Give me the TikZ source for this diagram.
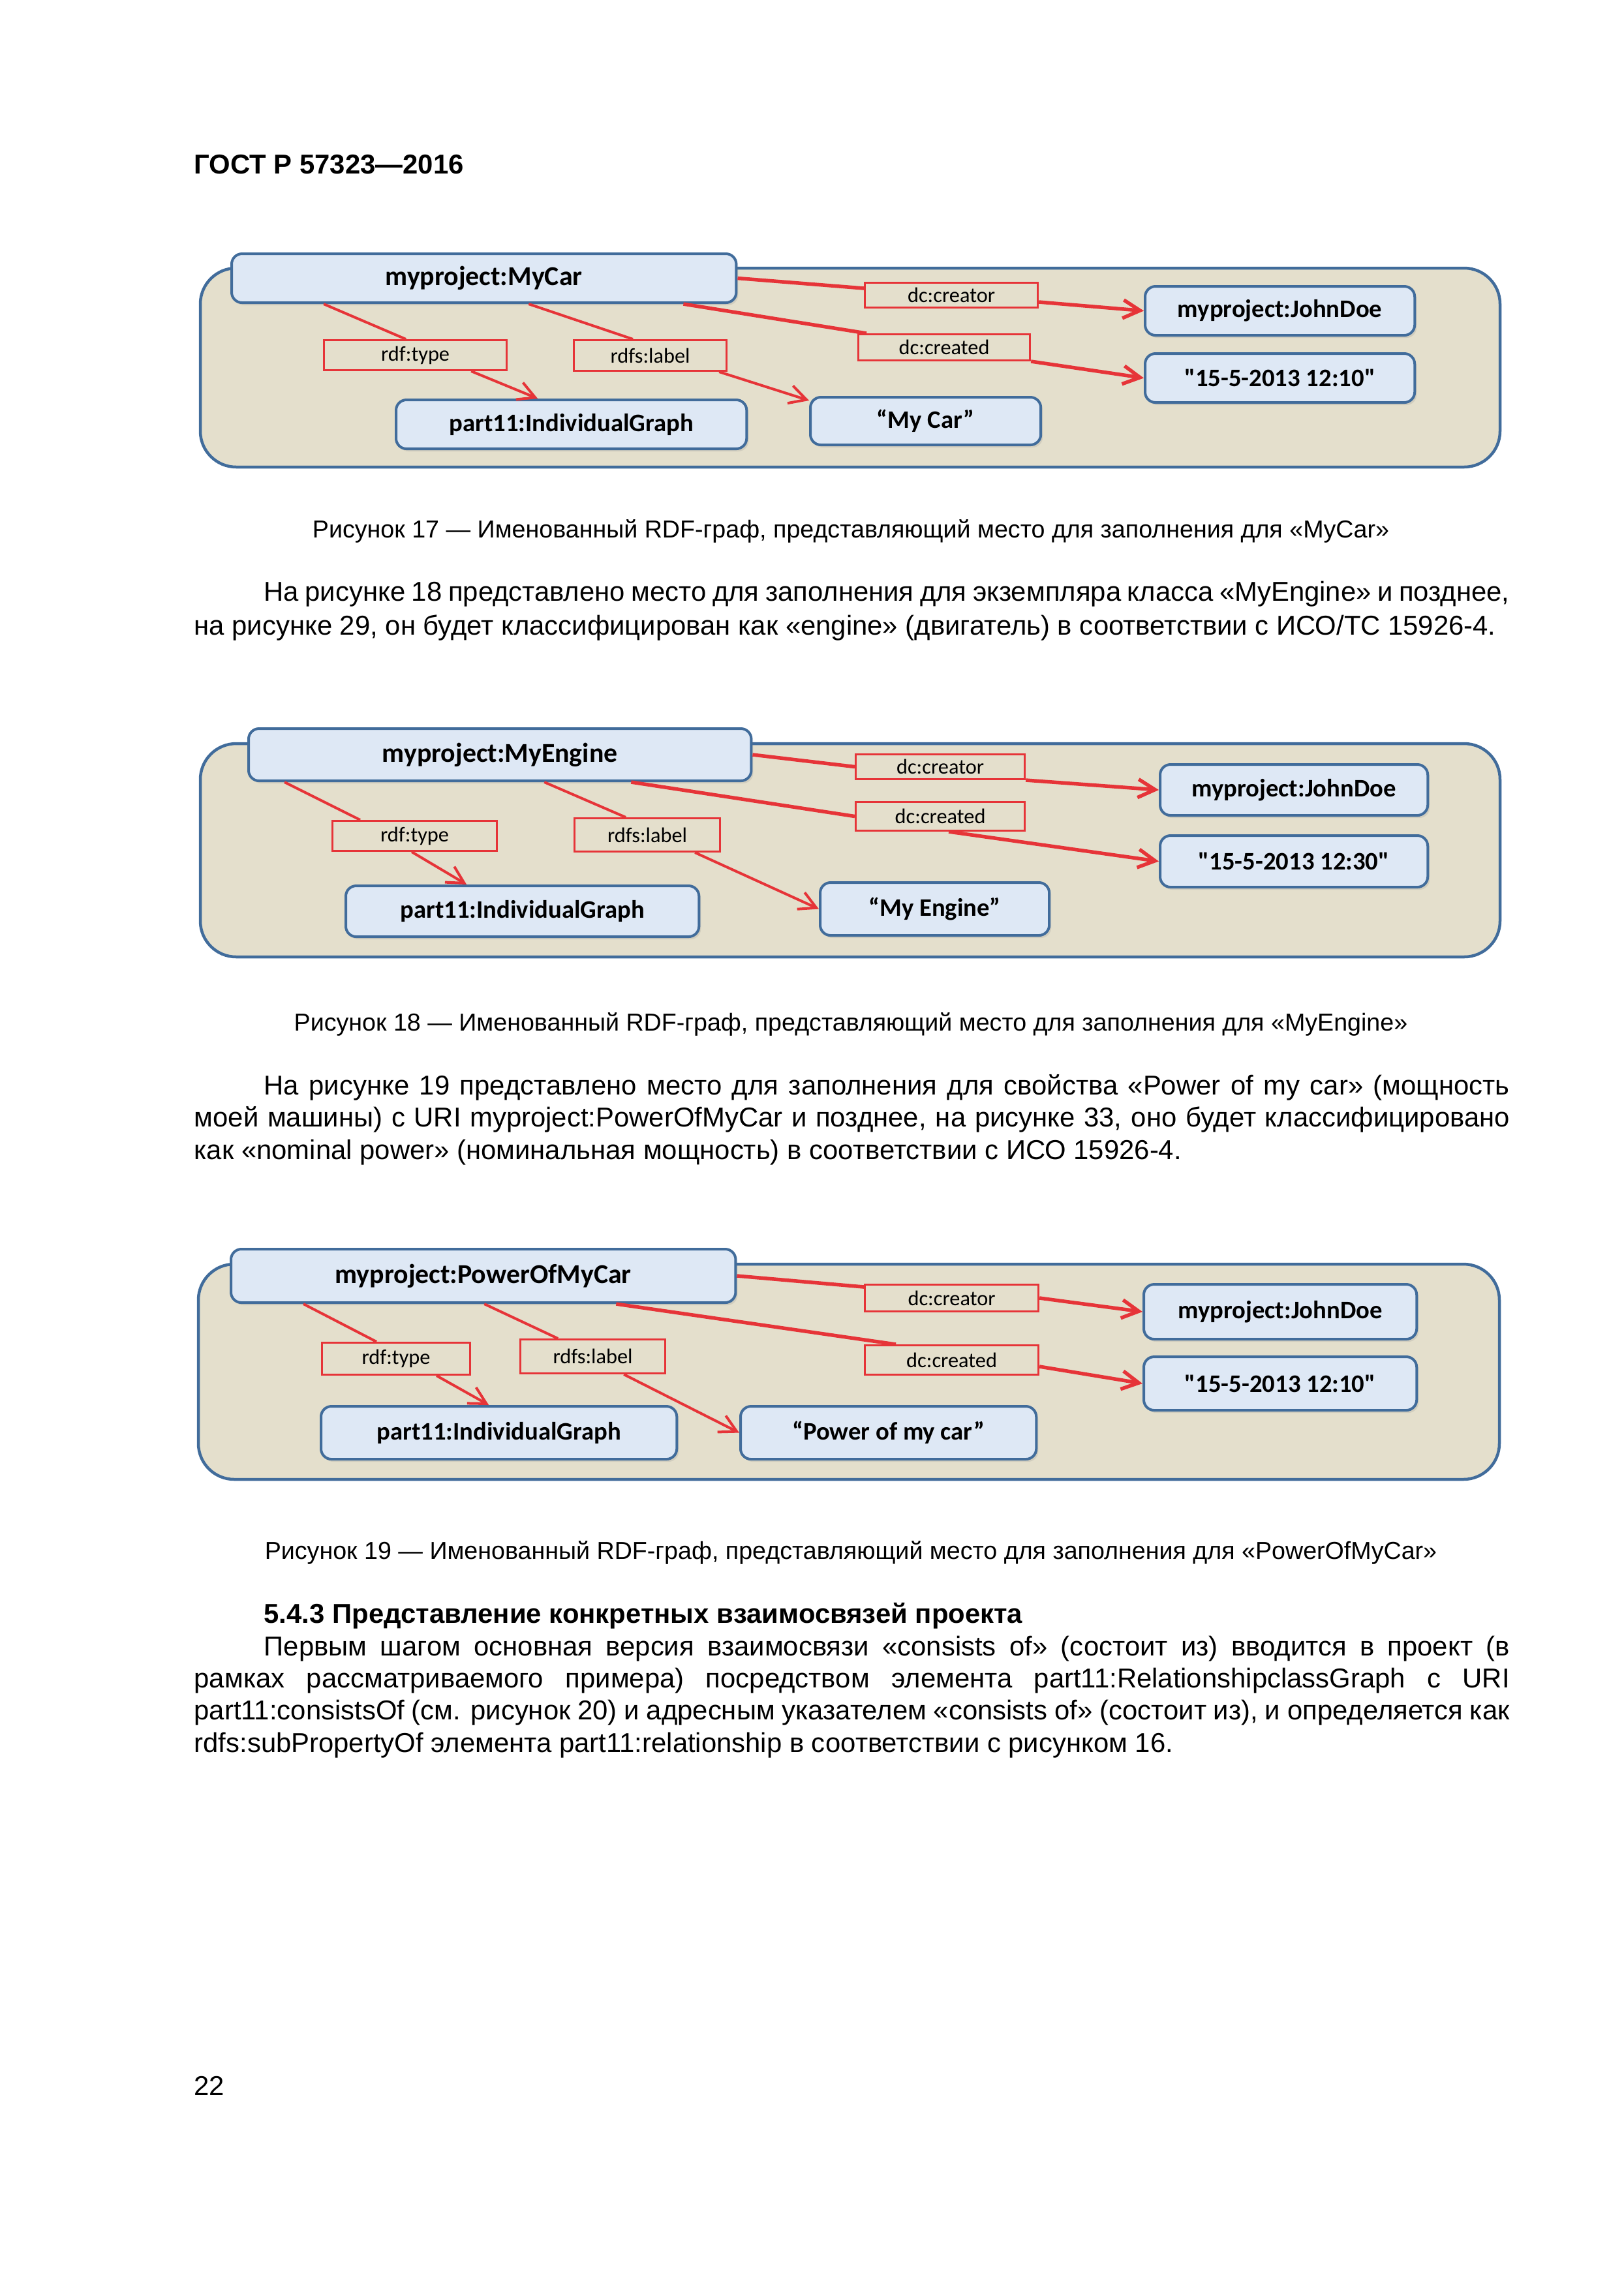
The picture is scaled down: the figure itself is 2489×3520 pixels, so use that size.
\documentclass[tikz,border=0pt]{standalone}
\usepackage{fontspec}
\setmainfont{Liberation Sans}
\newfontfamily\calibri{Carlito}
\usetikzlibrary{arrows.meta,shadows}

\definecolor{graphbg}{RGB}{228,223,204}
\definecolor{graphedge}{RGB}{65,108,155}
\definecolor{nodefill}{RGB}{222,232,245}
\definecolor{propred}{RGB}{230,52,56}

\newcommand{\bodyfont}{\fontsize{11.9pt}{14pt}\selectfont}
\newcommand{\capfont}{\fontsize{10.7pt}{13pt}\selectfont}
\newcommand{\fullline}[2]{\makebox[#1][s]{#2}}

\tikzset{
  graphbox/.style={draw=graphedge, line width=0.45mm, fill=graphbg, rounded corners=5.5mm},
  rdfnode/.style={draw=graphedge, line width=0.4mm, fill=nodefill, rounded corners=1.6mm,
    anchor=north west, inner sep=0pt, font=\calibri\bfseries\fontsize{11pt}{13pt}\selectfont,
    drop shadow={opacity=0.18, shadow xshift=0.3mm, shadow yshift=-0.4mm}},
  subjnode/.style={rdfnode, font=\calibri\bfseries\fontsize{11.9pt}{14pt}\selectfont},
  propbox/.style={draw=propred, line width=0.3mm, anchor=north west, inner sep=0pt,
    font=\calibri\fontsize{9.2pt}{11pt}\selectfont},
  dcline/.style={draw=propred, line width=0.55mm},
  typeline/.style={draw=propred, line width=0.4mm},
  proparrow/.style={-{Straight Barb[length=2.6mm,width=2.8mm]}},
  textline/.style={anchor=base west, inner sep=0pt, font=\bodyfont},
  captionline/.style={anchor=base, inner sep=0pt, font=\capfont},
}

\begin{document}
\begin{tikzpicture}[x=0.01cm,y=-0.01cm]
    \useasboundingbox (0,0) rectangle (2489,3520);

    % Page header
    \node[textline, font=\fontsize{11.9pt}{14pt}\selectfont\bfseries] (head) at (297,266) {ГОСТ Р 57323—2016};

    % Figure 17
    \draw[graphbox] (307,411) rectangle (2299,716);
    \node[subjnode, minimum width=7.73cm, minimum height=0.75cm] (car17) at (353,387) {myproject:MyCar};
    \node[rdfnode, minimum width=4.13cm, minimum height=0.75cm] (john17) at (1753,437) {myproject:JohnDoe};
    \node[rdfnode, minimum width=4.13cm, minimum height=0.75cm] (date17) at (1753,540) {"15-5-2013 12:10"};
    \node[rdfnode, minimum width=5.37cm, minimum height=0.75cm] (ig17) at (605,611) {part11:IndividualGraph};
    \node[rdfnode, minimum width=3.53cm, minimum height=0.73cm] (lit17) at (1240,607) {“My Car”};
    \node[propbox, minimum width=2.65cm, minimum height=0.38cm] (creator17) at (1324,432) {dc:creator};
    \node[propbox, minimum width=2.63cm, minimum height=0.40cm] (created17) at (1314,511) {dc:created};
    \node[propbox, minimum width=2.80cm, minimum height=0.46cm] (type17) at (495,520) {rdf:type};
    \node[propbox, minimum width=2.34cm, minimum height=0.47cm] (label17) at (878,520) {rdfs:label};

    \draw[dcline] (car17.east) -- ([yshift=-0.1cm]creator17.north west);
    \draw[dcline, proparrow] ([yshift=0.1cm]creator17.south east) -- (john17.west);
    \draw[dcline] ([xshift=6.94cm]car17.south west) -- ([xshift=0.14cm]created17.north west);
    \draw[dcline, proparrow] (created17.south east) -- (date17.west);
    \draw[typeline] ([xshift=1.43cm]car17.south west) -- ([xshift=1.27cm]type17.north west);
    \draw[typeline, proparrow] ([xshift=2.27cm]type17.south west) -- ([xshift=2.19cm]ig17.north west);
    \draw[typeline] ([xshift=4.57cm]car17.south west) -- ([xshift=0.92cm]label17.north west);
    \draw[typeline, proparrow] ([xshift=2.24cm]label17.south west) -- ([yshift=-0.07cm]lit17.north west);

    \node[captionline] (cap17) at (1304,824) {Рисунок 17 — Именованный RDF-граф, представляющий место для заполнения для «MyCar»};

    % Text before figure 18
    \node[textline] (p1a) at (404,921) {\fullline{19.08cm}{На рисунке 18 представлено место для заполнения для экземпляра класса «MyEngine» и позднее,}};
    \node[textline] (p1b) at (297,973) {на рисунке 29, он будет классифицирован как «engine» (двигатель) в соответствии с ИСО/ТС 15926-4.};

    % Figure 18
    \draw[graphbox] (307,1140) rectangle (2299,1467);
    \node[subjnode, minimum width=7.70cm, minimum height=0.80cm] (eng18) at (379,1115) {myproject:MyEngine};
    \node[rdfnode, minimum width=4.10cm, minimum height=0.78cm] (john18) at (1776,1170) {myproject:JohnDoe};
    \node[rdfnode, minimum width=4.10cm, minimum height=0.79cm] (date18) at (1776,1279) {"15-5-2013 12:30"};
    \node[rdfnode, minimum width=5.41cm, minimum height=0.78cm] (ig18) at (528,1356) {part11:IndividualGraph};
    \node[rdfnode, minimum width=3.51cm, minimum height=0.81cm] (lit18) at (1255,1351) {“My Engine”};
    \node[propbox, minimum width=2.59cm, minimum height=0.38cm] (creator18) at (1310,1155) {dc:creator};
    \node[propbox, minimum width=2.59cm, minimum height=0.44cm] (created18) at (1310,1228) {dc:created};
    \node[propbox, minimum width=2.52cm, minimum height=0.46cm] (type18) at (508,1257) {rdf:type};
    \node[propbox, minimum width=2.23cm, minimum height=0.51cm] (label18) at (879,1253) {rdfs:label};

    \draw[dcline] (eng18.east) -- (creator18.west);
    \draw[dcline, proparrow] (creator18.south east) -- (john18.west);
    \draw[dcline] ([xshift=5.88cm]eng18.south west) -- (created18.west);
    \draw[dcline, proparrow] ([xshift=1.44cm]created18.south west) -- (date18.west);
    \draw[typeline] ([xshift=0.57cm]eng18.south west) -- ([xshift=0.44cm]type18.north west);
    \draw[typeline, proparrow] ([xshift=1.23cm]type18.south west) -- ([xshift=1.87cm]ig18.north west);
    \draw[typeline] ([xshift=4.55cm]eng18.south west) -- ([xshift=0.80cm]label18.north west);
    \draw[typeline, proparrow] ([xshift=1.86cm]label18.south west) -- (lit18.west);

    \node[captionline] (cap18) at (1304,1580) {Рисунок 18 — Именованный RDF-граф, представляющий место для заполнения для «MyEngine»};

    % Text before figure 19
    \node[textline] (p2a) at (404,1678) {\fullline{19.08cm}{На рисунке 19 представлено место для заполнения для свойства «Power of my car» (мощность}};
    \node[textline] (p2b) at (297,1727) {\fullline{20.15cm}{моей машины) с URI myproject:PowerOfMyCar и позднее, на рисунке 33, оно будет классифицировано}};
    \node[textline] (p2c) at (297,1777) {как «nominal power» (номинальная мощность) в соответствии с ИСО 15926-4.};

    % Figure 19
    \draw[graphbox] (304,1938) rectangle (2298,2268);
    \node[subjnode, minimum width=7.73cm, minimum height=0.82cm] (pow19) at (352,1913) {myproject:PowerOfMyCar};
    \node[rdfnode, minimum width=4.18cm, minimum height=0.84cm] (john19) at (1751,1967) {myproject:JohnDoe};
    \node[rdfnode, minimum width=4.18cm, minimum height=0.82cm] (date19) at (1751,2078) {"15-5-2013 12:10"};
    \node[rdfnode, minimum width=5.45cm, minimum height=0.81cm] (ig19) at (490,2154) {part11:IndividualGraph};
    \node[rdfnode, minimum width=4.53cm, minimum height=0.81cm] (lit19) at (1133,2154) {“Power of my car”};
    \node[propbox, minimum width=2.66cm, minimum height=0.41cm] (creator19) at (1324,1968) {dc:creator};
    \node[propbox, minimum width=2.66cm, minimum height=0.45cm] (created19) at (1324,2061) {dc:created};
    \node[propbox, minimum width=2.27cm, minimum height=0.49cm] (type19) at (492,2057) {rdf:type};
    \node[propbox, minimum width=2.22cm, minimum height=0.52cm] (label19) at (796,2052) {rdfs:label};

    \draw[dcline] (pow19.east) -- ([yshift=-0.05cm]creator19.north west);
    \draw[dcline, proparrow] (creator19.east) -- (john19.west);
    \draw[dcline] ([xshift=5.92cm]pow19.south west) -- ([xshift=0.49cm]created19.north west);
    \draw[dcline, proparrow] ([yshift=-0.1cm]created19.east) -- (date19.west);
    \draw[typeline] ([xshift=1.13cm]pow19.south west) -- ([xshift=0.85cm]type19.north west);
    \draw[typeline, proparrow] ([xshift=1.77cm]type19.south west) -- ([xshift=2.59cm]ig19.north west);
    \draw[typeline] ([xshift=3.90cm]pow19.south west) -- ([xshift=0.59cm]label19.north west);
    \draw[typeline, proparrow] ([xshift=1.60cm]label19.south west) -- (lit19.west);

    \node[captionline] (cap19) at (1304,2390) {Рисунок 19 — Именованный RDF-граф, представляющий место для заполнения для «PowerOfMyCar»};

    % Section 5.4.3
    \node[textline, font=\bodyfont\bfseries] (sec) at (404,2488) {5.4.3 Представление конкретных взаимосвязей проекта};
    \node[textline] (p3a) at (404,2538) {\fullline{19.08cm}{Первым шагом основная версия взаимосвязи «consists of» (состоит из) вводится в проект (в}};
    \node[textline] (p3b) at (297,2587) {\fullline{20.15cm}{рамках рассматриваемого примера) посредством элемента part11:RelationshipclassGraph с URI}};
    \node[textline] (p3c) at (297,2636) {\fullline{20.15cm}{part11:consistsOf (см. рисунок 20) и адресным указателем «consists of» (состоит из), и определяется как}};
    \node[textline] (p3d) at (297,2686) {rdfs:subPropertyOf элемента part11:relationship в соответствии с рисунком 16.};

    % Page number
    \node[textline] (pagenum) at (297,3212) {22};
\end{tikzpicture}
\end{document}
